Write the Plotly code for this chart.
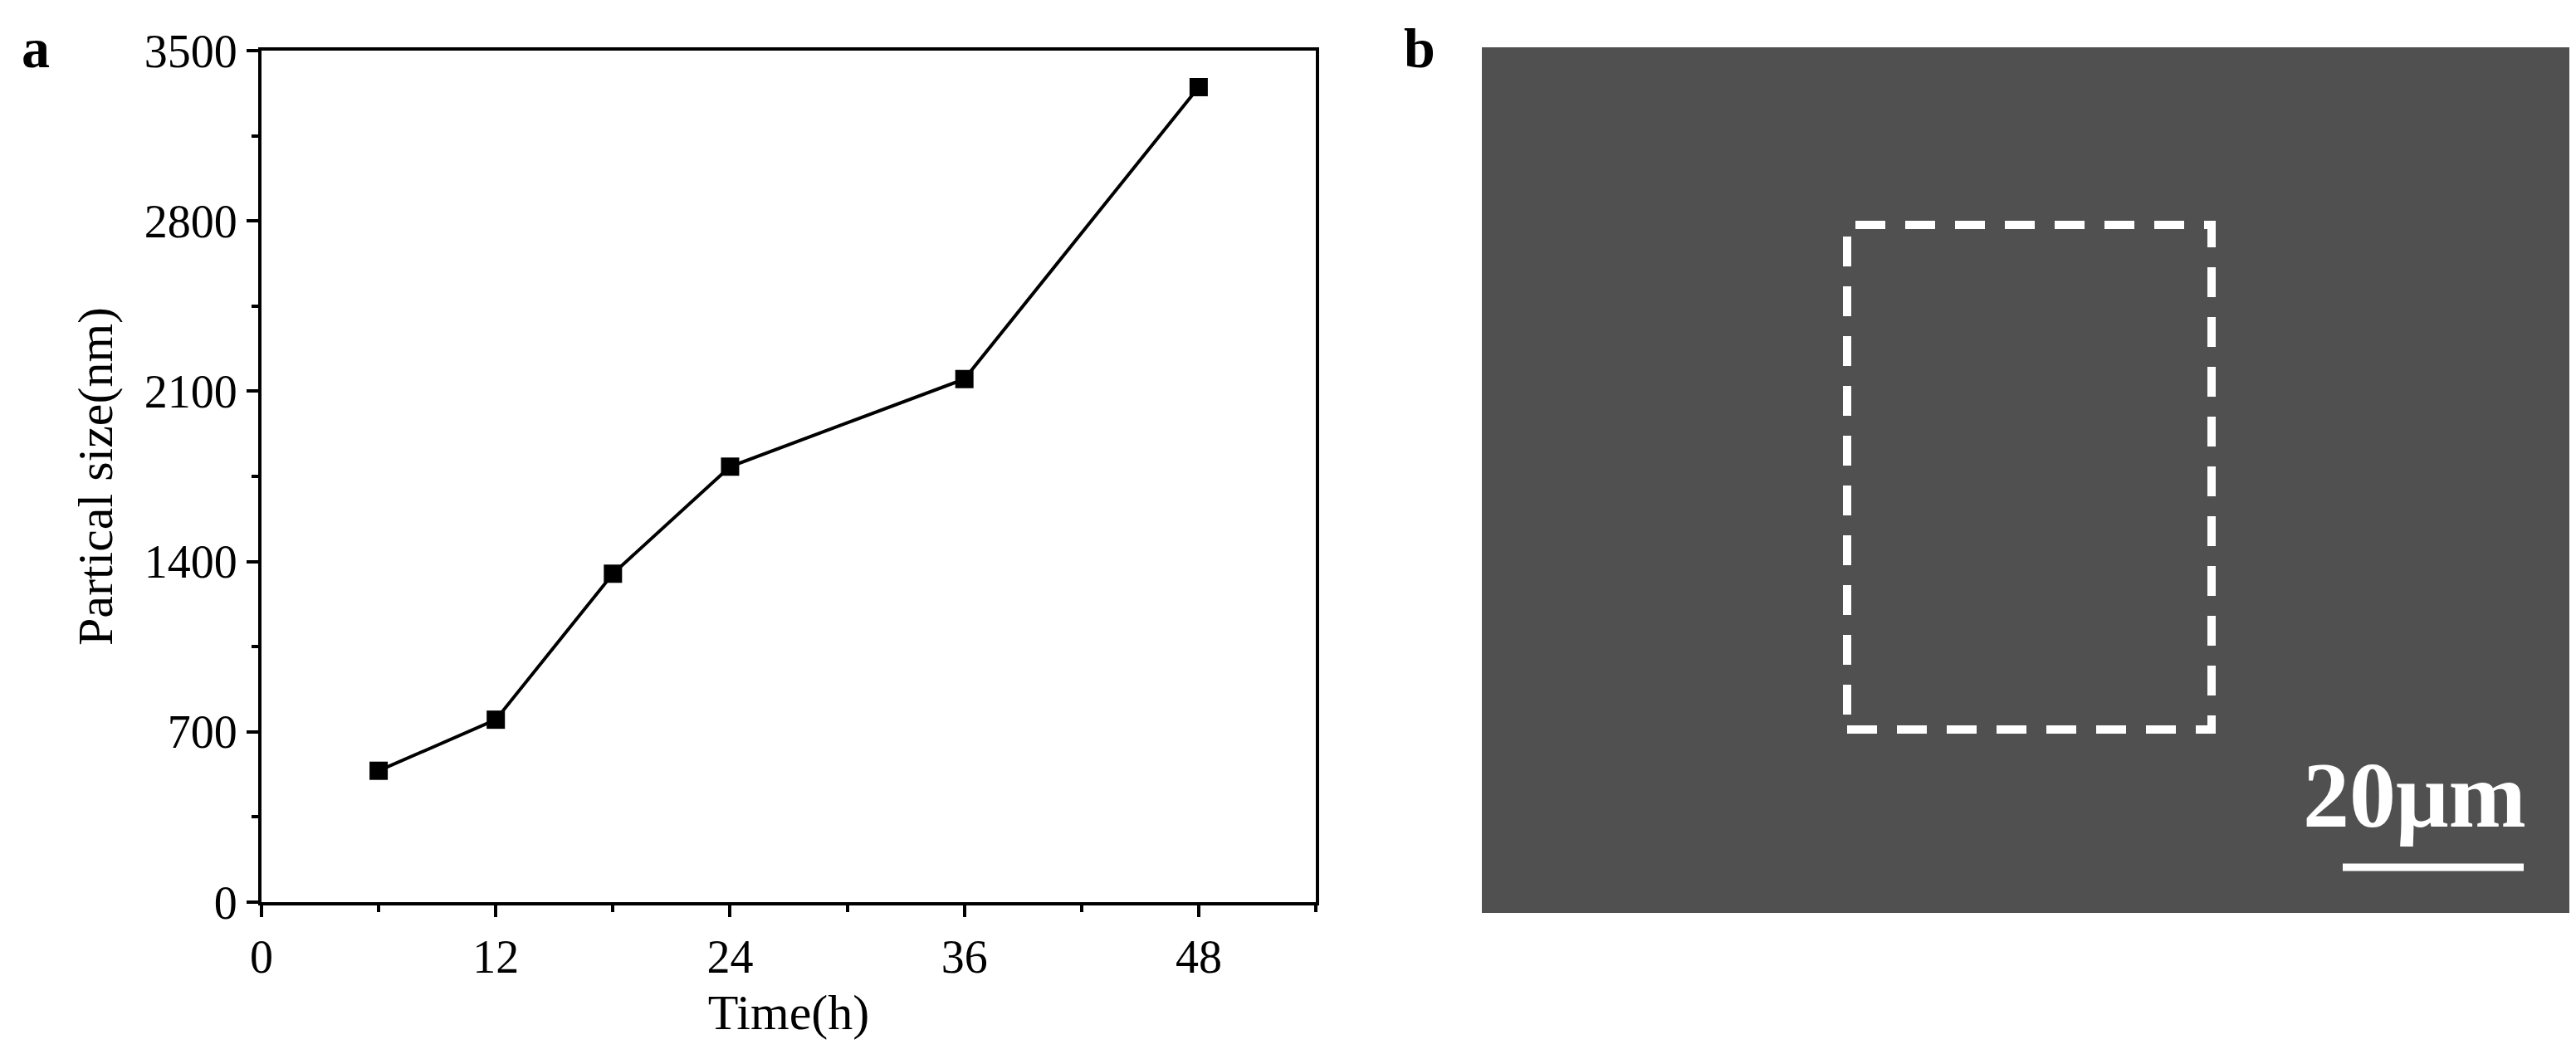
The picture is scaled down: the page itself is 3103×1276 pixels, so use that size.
import plotly.graph_objects as go

W, H = 3103, 1276
L, R, T, B = 307, 1577, 53, 1079

time_h = [6, 12, 18, 24, 36, 48]
size_nm = [540, 750, 1350, 1790, 2150, 3350]
x_ticks = [0, 12, 24, 36, 48]
y_ticks = [0, 700, 1400, 2100, 2800, 3500]


def px(x):
	return (x - L) / (R - L)


def py(y):
	return (B - y) / (B - T)


fig = go.Figure(go.Scatter(
	x=time_h, y=size_nm, mode="lines+markers",
	line=dict(color="black", width=4),
	marker=dict(symbol="square", size=22, color="black"),
))

font = "Liberation Serif"
axis_common = dict(
	showgrid=False, zeroline=False, showline=True, linecolor="black", linewidth=4,
	mirror=True, ticks="outside", ticklen=14, tickwidth=4, tickcolor="black",
	tickfont=dict(family=font, size=56, color="black"),
)
fig.update_xaxes(range=[0, 54], tickvals=x_ticks,
	minor=dict(ticks="outside", ticklen=8, tickwidth=4, tickcolor="black", dtick=6, tick0=0),
	title=dict(text="Time(h)", font=dict(family=font, size=60, color="black"), standoff=16),
	**axis_common)
fig.update_yaxes(range=[0, 3500], tickvals=y_ticks,
	minor=dict(ticks="outside", ticklen=8, tickwidth=4, tickcolor="black", dtick=350, tick0=0),
	title=dict(text="Partical size(nm)", font=dict(family=font, size=60, color="black"), standoff=20),
	**axis_common)

shapes = [
	dict(type="rect", xref="paper", yref="paper", x0=px(1777), x1=px(3087), y0=py(1092), y1=py(49),
		fillcolor="#505050", line=dict(width=0), layer="below"),
	dict(type="rect", xref="paper", yref="paper", x0=px(2217), x1=px(2656), y0=py(871), y1=py(263),
		line=dict(color="white", width=10, dash="36px,24px")),
	dict(type="line", xref="paper", yref="paper", x0=px(2814), x1=px(3032), y0=py(1037), y1=py(1037),
		line=dict(color="white", width=9)),
]
label = dict(xref="paper", yref="paper", showarrow=False, xanchor="center", yanchor="middle")
annotations = [
	dict(text="<b>a</b>", x=px(35), y=py(50), font=dict(family=font, size=68, color="black"), **label),
	dict(text="<b>b</b>", x=px(1702), y=py(50), font=dict(family=font, size=68, color="black"), **label),
	dict(text="<b>20μm</b>", x=px(2900), y=py(950), font=dict(family=font, size=112, color="white"), **label),
]

fig.update_layout(
	width=W, height=H, showlegend=False,
	margin=dict(l=L, r=W - R, t=T, b=H - B),
	plot_bgcolor="white", paper_bgcolor="white",
	shapes=shapes, annotations=annotations,
)
fig.write_html("out.html")
